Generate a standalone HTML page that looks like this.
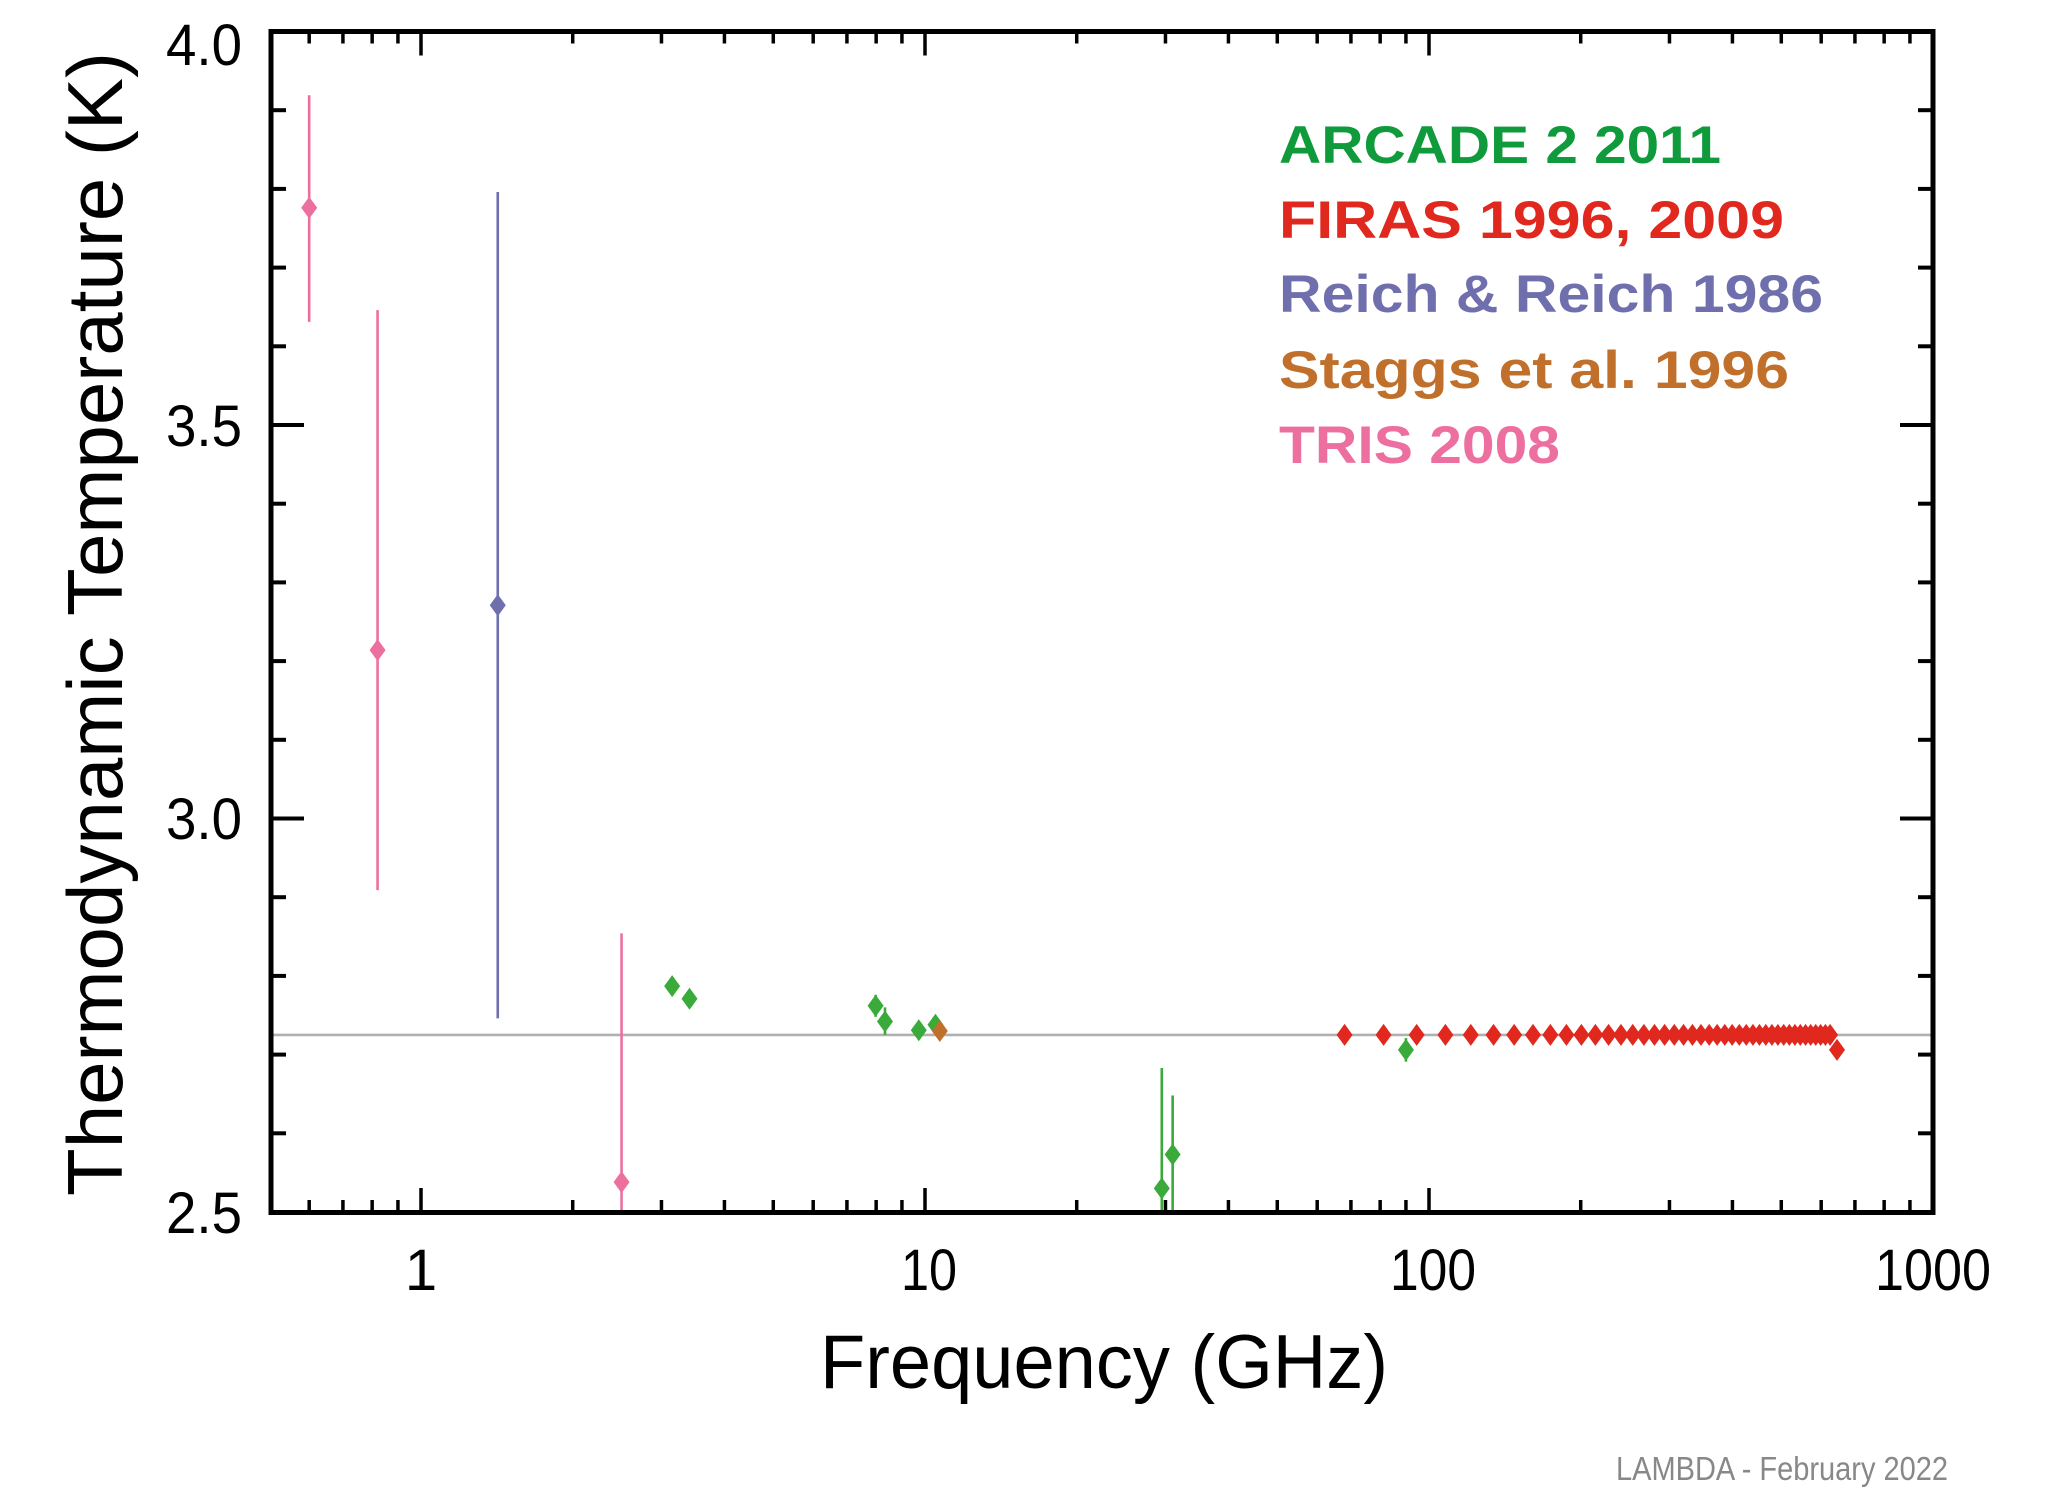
<!DOCTYPE html>
<html><head><meta charset="utf-8"><style>
html,body{margin:0;padding:0;background:#fff}
svg{display:block}
</style></head><body>
<svg id="s" width="2048" height="1505" xmlns="http://www.w3.org/2000/svg" font-family="Liberation Sans, sans-serif">
<rect width="2048" height="1505" fill="#fff"/>
<g id="g"></g>
<rect x="271" y="31.5" width="1662" height="1181" fill="none" stroke="#000" stroke-width="5"/>
<g font-size="58" text-anchor="end" fill="#000">
<text x="242" y="65" textLength="76" lengthAdjust="spacingAndGlyphs">4.0</text>
<text x="242" y="446" textLength="76" lengthAdjust="spacingAndGlyphs">3.5</text>
<text x="242" y="839" textLength="76" lengthAdjust="spacingAndGlyphs">3.0</text>
<text x="242" y="1233" textLength="76" lengthAdjust="spacingAndGlyphs">2.5</text>
</g>
<g font-size="58" text-anchor="middle" fill="#000">
<text x="421" y="1290">1</text>
<text x="929" y="1290" textLength="56" lengthAdjust="spacingAndGlyphs">10</text>
<text x="1433" y="1290" textLength="86" lengthAdjust="spacingAndGlyphs">100</text>
<text x="1933" y="1290" textLength="116" lengthAdjust="spacingAndGlyphs">1000</text>
</g>
<text x="1104" y="1388" font-size="76" text-anchor="middle" fill="#000" textLength="568" lengthAdjust="spacingAndGlyphs">Frequency (GHz)</text>
<text transform="translate(122,624) rotate(-90)" font-size="78" text-anchor="middle" fill="#000" textLength="1144" lengthAdjust="spacingAndGlyphs">Thermodynamic Temperature (K)</text>
<g font-size="53" font-weight="bold">
<text x="1279" y="163" fill="#0f9a3c" textLength="442" lengthAdjust="spacingAndGlyphs">ARCADE 2  2011</text>
<text x="1279" y="238" fill="#e0281e" textLength="505" lengthAdjust="spacingAndGlyphs">FIRAS  1996, 2009</text>
<text x="1279" y="312" fill="#6f6fae" textLength="544" lengthAdjust="spacingAndGlyphs">Reich &amp; Reich  1986</text>
<text x="1279" y="388" fill="#c0702a" textLength="510" lengthAdjust="spacingAndGlyphs">Staggs et al.  1996</text>
<text x="1279" y="463" fill="#ec6fa0" textLength="281" lengthAdjust="spacingAndGlyphs">TRIS 2008</text>
</g>
<text x="1948" y="1480" font-size="33" text-anchor="end" fill="#888" textLength="332" lengthAdjust="spacingAndGlyphs">LAMBDA - February 2022</text>
</svg>
<script>
var g=document.getElementById('g'),NS='http://www.w3.org/2000/svg';
function X(f){return 421+504*Math.log10(f);}
function Y(t){return 31.5+(4-t)*787;}
function L(x1,y1,x2,y2,c,w){var e=document.createElementNS(NS,'line');e.setAttribute('x1',x1);e.setAttribute('y1',y1);e.setAttribute('x2',x2);e.setAttribute('y2',y2);e.setAttribute('stroke',c);e.setAttribute('stroke-width',w);g.appendChild(e);}
function D(x,y,c){var e=document.createElementNS(NS,'polygon');e.setAttribute('points',(x-8)+','+y+' '+x+','+(y-11)+' '+(x+8)+','+y+' '+x+','+(y+11));e.setAttribute('fill',c);g.appendChild(e);}
function P(f,t,lo,hi,c){var x=X(f);if(lo!=null){L(x,Math.min(Y(lo),1212),x,Math.max(Y(hi),32),c,2.6);}D(x,Y(t),c);}
L(271,Y(2.725),1933,Y(2.725),'#b0b0b0',2.6);
for(var i=0;i<=15;i++){var t=2.5+i*0.1,y=Y(t),len=(i%5==0)?33:15;L(271,y,271+len,y,'#000',4);L(1933,y,1933-len,y,'#000',4);}
for(var d=-1;d<=2;d++){for(var m=1;m<10;m++){var f=m*Math.pow(10,d);if(f<0.51)continue;var x=X(f),len=(m==1)?24:12;L(x,1212,x,1212-len,'#000',3.5);L(x,31.5,x,31.5+len,'#000',3.5);}}
var pk='#ec6fa0';
P(0.6,3.776,3.631,3.919,pk);P(0.82,3.214,2.909,3.646,pk);P(2.5,2.538,2.4,2.854,pk);
P(1.42,3.271,2.746,3.796,'#6f6fae');
var gr='#3aaa3a';
D(X(3.15),Y(2.787),gr);D(X(3.41),Y(2.771),gr);
P(7.98,2.762,2.748,2.776,gr);P(8.33,2.742,2.725,2.760,gr);P(9.72,2.731,2.725,2.737,gr);P(10.49,2.738,2.73,2.746,gr);
P(29.5,2.530,2.4,2.683,gr);P(31,2.573,2.4,2.648,gr);P(90,2.706,2.691,2.721,gr);
P(10.7,2.73,2.722,2.738,'#c0702a');
var rd='#e0281e';
for(var k=0;k<43;k++){var f=68+k*13.26;D(X(f),Y(2.725),rd);}
P(645,2.706,2.695,2.717,rd);
</script>
</body></html>
